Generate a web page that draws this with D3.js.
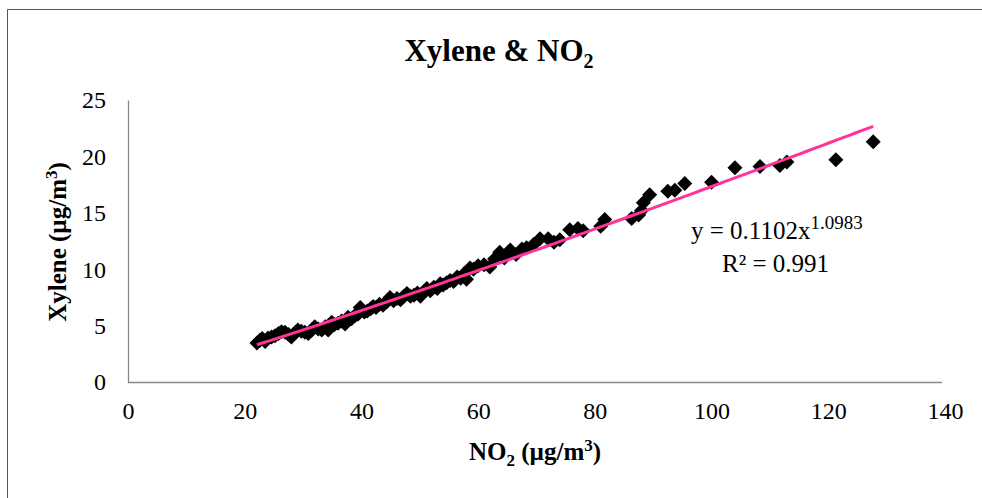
<!DOCTYPE html>
<html><head><meta charset="utf-8">
<script src="https://cdn.jsdelivr.net/npm/d3@7"></script>
<style>html,body{margin:0;padding:0;background:#fff;}svg{display:block;}</style>
</head><body>
<svg id="chart" width="982" height="498"></svg>
<script>
const no2 = [22.1,22.6,23.0,23.5,24.0,24.6,25.2,25.8,26.3,26.9,27.5,28.0,28.6,29.1,29.7,30.3,30.9,31.5,32.0,32.6,33.2,33.8,34.3,34.9,35.4,36.0,36.6,37.2,37.7,38.3,38.9,39.4,39.8,40.5,41.0,41.6,42.0,42.5,43.1,43.7,44.3,44.9,45.5,46.1,46.7,47.3,47.8,48.4,49.0,49.6,50.1,50.7,51.2,51.8,52.4,53.0,53.5,54.0,54.6,55.2,55.8,56.4,57.0,57.6,58.0,58.6,59.2,60.0,61.0,62.0,62.8,63.7,64.5,65.5,66.5,67.5,68.3,69.5,70.6,72.0,73.0,74.0,75.7,77.1,78.0,81.0,81.7,86.3,87.5,88.0,88.3,89.4,92.5,93.7,95.4,100.0,104.0,108.3,111.7,112.9,121.3,127.7];
const xylene = [3.45,3.7,3.85,3.6,3.9,4.0,4.1,4.3,4.45,4.4,4.2,4.0,4.35,4.6,4.5,4.4,4.3,4.6,4.9,4.7,4.6,4.9,4.6,5.3,5.1,5.2,5.4,5.15,5.75,5.6,5.9,6.0,6.6,6.2,6.3,6.5,6.7,6.6,6.9,6.8,7.1,7.5,7.2,7.4,7.3,7.6,7.85,7.6,7.7,7.9,7.6,8.0,8.3,8.1,8.4,8.3,8.7,8.6,8.8,9.0,8.9,9.3,9.2,9.6,9.1,10.1,10.0,10.3,10.4,10.2,10.9,11.5,11.0,11.7,11.3,11.8,11.9,12.2,12.7,12.7,12.4,12.6,13.5,13.6,13.4,13.8,14.4,14.5,14.8,15.2,15.9,16.6,16.9,17.0,17.6,17.7,19.0,19.1,19.2,19.5,19.7,21.3];
const xTicks = [0,20,40,60,80,100,120,140];
const yTicks = [0,5,10,15,20,25];
const trendCoef = [0.1102, 1.0983];   // y = a * x^b
const trendRange = [22.1, 127.7];

const svg = d3.select("#chart");
const font = "'Liberation Serif','Times New Roman',serif";

// outer frame
svg.append("line").attr("x1",7.5).attr("x2",7.5).attr("y1",9.5).attr("y2",498).attr("stroke","#555").attr("stroke-width",1);
svg.append("line").attr("x1",7.5).attr("x2",982).attr("y1",9.5).attr("y2",9.5).attr("stroke","#555").attr("stroke-width",1);

const x = d3.scaleLinear().domain([0,140]).range([128,945]);
const y = d3.scaleLinear().domain([0,25]).range([382,100]);

// axes
const xAxis = svg.append("g").attr("transform","translate(0,382)")
  .call(d3.axisBottom(x).tickValues(xTicks).tickSize(0).tickPadding(20));
const yAxis = svg.append("g").attr("transform","translate(128,0)")
  .call(d3.axisLeft(y).tickValues(yTicks).tickSize(0).tickPadding(22));
[xAxis,yAxis].forEach(g=>{
  g.select(".domain").attr("stroke","#888").attr("stroke-width",1.3);
  g.selectAll("text").attr("font-family",font).attr("font-size",24).attr("fill","#000");
});
xAxis.select(".domain").attr("d","M128,0.5H942");
xAxis.selectAll("text").attr("dy","0.71em").attr("y",20);
yAxis.selectAll("text").attr("dy","0.33em");

// points
const diamond = "M0,-7.5L7.5,0L0,7.5L-7.5,0Z";
svg.append("g").selectAll("path").data(no2.map((v,i)=>[v,xylene[i]])).join("path")
  .attr("d",diamond).attr("transform",d=>`translate(${x(d[0])},${y(d[1])})`).attr("fill","#000");

// trendline
const tx = d3.range(0,101).map(i=>trendRange[0]+(trendRange[1]-trendRange[0])*i/100);
svg.append("path").datum(tx)
  .attr("d", d3.line().x(v=>x(v)).y(v=>y(trendCoef[0]*Math.pow(v,trendCoef[1]))))
  .attr("fill","none").attr("stroke","#FF3399").attr("stroke-width",3);

// title
const t = svg.append("text").attr("x",499).attr("y",61).attr("text-anchor","middle")
  .attr("font-family",font).attr("font-size",31).attr("font-weight","bold");
t.append("tspan").text("Xylene & NO");
t.append("tspan").attr("font-size",20).attr("dy",7).text("2");

// x axis title
const xt = svg.append("text").attr("x",535).attr("y",460).attr("text-anchor","middle")
  .attr("font-family",font).attr("font-size",25).attr("font-weight","bold");
xt.append("tspan").text("NO");
xt.append("tspan").attr("font-size",17).attr("dy",6).text("2");
xt.append("tspan").attr("dy",-6).text(" (µg/m");
xt.append("tspan").attr("font-size",17).attr("dy",-9).text("3");
xt.append("tspan").attr("dy",9).text(")");

// y axis title
const yt = svg.append("text").attr("transform","translate(66,242) rotate(-90)").attr("text-anchor","middle")
  .attr("font-family",font).attr("font-size",25).attr("font-weight","bold");
yt.append("tspan").text("Xylene (µg/m");
yt.append("tspan").attr("font-size",17).attr("dy",-9).text("3");
yt.append("tspan").attr("dy",9).text(")");

// equation
const eq = svg.append("text").attr("x",691).attr("y",239).attr("font-family",font).attr("font-size",25);
eq.append("tspan").text("y = " + trendCoef[0] + "x");
eq.append("tspan").attr("font-size",19).attr("dy",-10).text(trendCoef[1]);
svg.append("text").attr("x",722).attr("y",272).attr("font-family",font).attr("font-size",25).text("R² = 0.991");
</script>
</body></html>
